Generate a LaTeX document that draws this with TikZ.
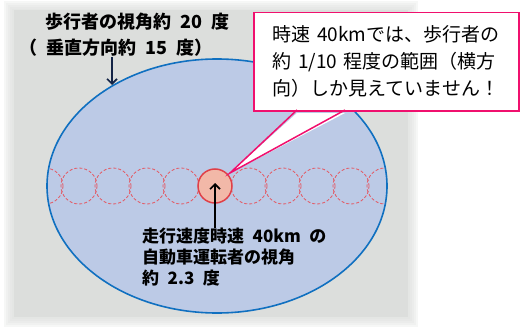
\documentclass[tikz,border=0pt]{standalone}
\usepackage{fontspec}
\setmainfont{Noto Sans CJK JP}
\usepackage{tikz}
\usetikzlibrary{arrows.meta}
\definecolor{bggray}{RGB}{220,222,220}
\definecolor{viewblue}{RGB}{188,202,230}
\definecolor{viewedge}{RGB}{16,112,192}
\definecolor{eyered}{RGB}{224,64,72}
\definecolor{eyefill}{RGB}{242,184,168}
\definecolor{dashred}{RGB}{228,88,98}
\definecolor{notepink}{RGB}{240,16,110}
\definecolor{arrownavy}{RGB}{20,36,70}
\newcommand{\gap}{\hspace{0.5em}}

\begin{document}
\begin{tikzpicture}[x=1pt, y=-1pt,
    every node/.style={inner sep=0pt},
    dashcircle/.style={draw=dashred, dash pattern=on 3pt off 2pt, line width=0.8pt},
    labeltext/.style={font=\bfseries\fontsize{17}{21}\selectfont, align=left},
    pointer/.style={line width=1.6pt, -{Straight Barb[length=5pt,width=10pt]}}]
  \useasboundingbox (0,0) rectangle (525,329);

  % Background (soft edges)
  \foreach \d in {0,2,...,8}
    \fill[bggray, opacity=0.25] (4+\d,1+\d) rectangle (418-\d,327-\d);
  \fill[bggray] (14,10) rectangle (408,317);

  % Field of view of the pedestrian
  \draw[fill=viewblue, draw=viewedge, line width=1.6pt] (217,186) ellipse [x radius=170, y radius=127];
  \begin{scope}
    \clip (217,186) ellipse [x radius=170, y radius=127];
    \foreach \k in {-6,...,-1,1,2,...,6}
      \draw[dashcircle] (215+34*\k,186) circle [radius=18];
  \end{scope}

  % Field of view of the driver
  \node (eye) [circle, draw=eyered, fill=eyefill, line width=1.5pt, minimum size=34pt] at (215,186) {};

  % Labels
  \node (fovlabel) [labeltext, font=\bfseries\fontsize{18}{26}\selectfont, anchor=west] at (19,35)
    {\hspace{1.45em}歩行者の視角約\gap 20\gap 度\\（\gap 垂直方向約\gap 15\gap 度）};
  \node (carlabel) [labeltext, anchor=north west] at (142,228)
    {走行速度時速\gap 40km\gap の\\自動車運転者の視角\\約\gap 2.3\gap 度};
  \coordinate (fovtop) at (112,85);

  % Arrows
  \draw[pointer, arrownavy] (fovlabel.south -| fovtop) -- (fovtop);
  \draw[pointer, black] (carlabel.north -| eye) -- ([yshift=3pt]eye.center);

  % Callout
  \node (note) [draw=notepink, fill=white, line width=1.5pt, anchor=north west,
    minimum width=265pt, minimum height=98pt, text width=227pt, align=left,
    font=\fontsize{19}{27}\selectfont] at (253,12)
    {時速 40kmでは、歩行者の\\約 1/10 程度の範囲（横方\\向）しか見えていません！};
  \coordinate (noteL) at (297,110);
  \coordinate (noteR) at (345,110);
  \coordinate (tip) at (230,173);
  \fill[white] ([yshift=-3pt]noteL) -- (tip) -- ([yshift=-3pt]noteR) -- cycle;
  \draw[notepink, line width=1.5pt, line join=miter] (noteL) -- (tip) -- (noteR);
\end{tikzpicture}
\end{document}
